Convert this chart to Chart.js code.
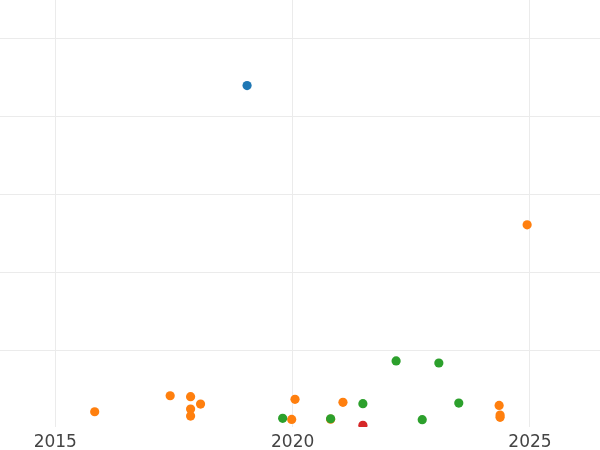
<!DOCTYPE html>
<html>
<head>
<meta charset="utf-8">
<script src="https://cdn.jsdelivr.net/npm/chart.js@4/dist/chart.umd.min.js"></script>
<style>
html,body{margin:0;padding:0;background:#fff;}
#wrap{width:600px;height:450px;}
</style>
</head>
<body>
<div id="wrap"><canvas id="c" width="600" height="450"></canvas></div>
<script>
// Tick labels
const xTicks = [2015, 2020, 2025];
const yTicks = [1, 2, 3, 4, 5];

// Series (year, value)
const blueX = [2019.04];
const blueY = [4.40];

const orangeX = [2015.83, 2017.42, 2017.85, 2018.06, 2017.85, 2017.85, 2019.98, 2020.05, 2020.80, 2021.06, 2024.35, 2024.37, 2024.37, 2024.94];
const orangeY = [0.206, 0.412, 0.400, 0.305, 0.241, 0.151, 0.108, 0.366, 0.110, 0.327, 0.288, 0.164, 0.134, 2.61];

const greenX = [2019.79, 2020.80, 2021.48, 2022.18, 2022.73, 2023.08, 2023.50];
const greenY = [0.122, 0.116, 0.310, 0.859, 0.104, 0.833, 0.318];

const redX = [2021.48];
const redY = [0.032];

const pts = (xs, ys) => xs.map((x, i) => ({x: x, y: ys[i]}));

const mk = (label, xs, ys, color, order) => ({
  label: label,
  data: pts(xs, ys),
  backgroundColor: color,
  borderColor: color,
  borderWidth: 0,
  pointRadius: 4.6,
  pointHoverRadius: 4.6,
  clip: 0,
  order: order
});

new Chart(document.getElementById('c'), {
  type: 'scatter',
  data: {
    datasets: [
      mk('blue', blueX, blueY, '#1f77b4', 1),
      mk('orange', orangeX, orangeY, '#ff7f0e', 2),
      mk('green', greenX, greenY, '#2ca02c', 0),
      mk('red', redX, redY, '#d62728', 0)
    ]
  },
  options: {
    responsive: false,
    animation: false,
    layout: {padding: {left: 0, right: 0, top: 0, bottom: -8}, autoPadding: false},
    plugins: {legend: {display: false}, tooltip: {enabled: false}},
    scales: {
      x: {
        type: 'linear',
        min: 2013.835,
        max: 2026.475,
        afterBuildTicks: (s) => { s.ticks = xTicks.map(v => ({value: v})); },
        grid: {color: '#ebebeb', lineWidth: 1, drawTicks: false},
        border: {display: false},
        ticks: {
          padding: 7,
          color: '#444444',
          font: {family: 'DejaVu Sans', size: 17, lineHeight: 1},
          maxRotation: 0,
          callback: (v) => String(v)
        }
      },
      y: {
        type: 'linear',
        min: 0.01,
        max: 5.5,
        afterBuildTicks: (s) => { s.ticks = yTicks.map(v => ({value: v})); },
        grid: {color: '#ebebeb', lineWidth: 1, drawTicks: false},
        border: {display: false},
        ticks: {display: false}
      }
    }
  }
});
</script>
</body>
</html>
